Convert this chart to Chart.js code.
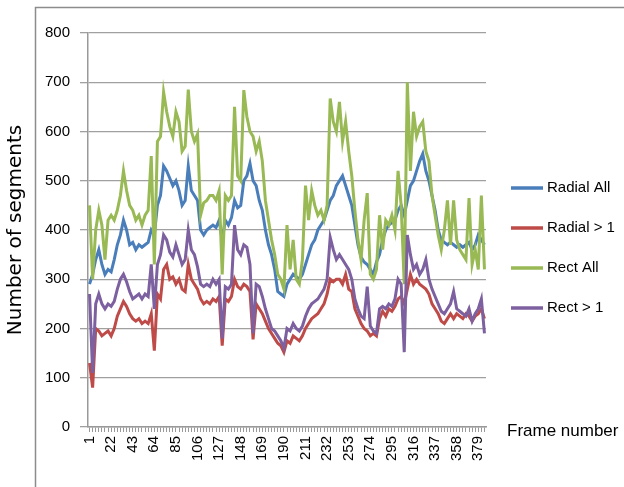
<!DOCTYPE html>
<html>
<head>
<meta charset="utf-8">
<script src="https://cdn.jsdelivr.net/npm/chart.js@4"></script>
<style>
  html, body { margin: 0; padding: 0; background: #fff; }
  canvas { display: block; }
</style>
</head>
<body>
<canvas id="grafikSegmen" width="624" height="487"></canvas>
<script>
// frames sampled every 3 frames
const frames = [1, 4, 7, 10, 13, 16, 19, 22, 25, 28, 31, 34, 37, 40, 43, 46, 49, 52, 55, 58, 61, 64, 67, 70, 73, 76, 79, 82, 85, 88, 91, 94, 97, 100, 103, 106, 109, 112, 115, 118, 121, 124, 127, 130, 133, 136, 139, 142, 145, 148, 151, 154, 157, 160, 163, 166, 169, 172, 175, 178, 181, 184, 187, 190, 193, 196, 199, 202, 205, 208, 211, 214, 217, 220, 223, 226, 229, 232, 235, 238, 241, 244, 247, 250, 253, 256, 259, 262, 265, 268, 271, 274, 277, 280, 283, 286, 289, 292, 295, 298, 301, 304, 307, 310, 313, 316, 319, 322, 325, 328, 331, 334, 337, 340, 343, 346, 349, 352, 355, 358, 361, 364, 367, 370, 373, 376, 379, 382, 385];
const frameTicks = [1, 22, 43, 64, 85, 106, 127, 148, 169, 190, 211, 232, 253, 274, 295, 316, 337, 358, 379];

const radialAll = [290, 310, 340, 360, 330, 310, 320, 315, 340, 370, 390, 420, 400, 370, 375, 360, 370, 365, 370, 375, 400, 390, 450, 470, 530, 520, 505, 490, 500, 480, 450, 460, 530, 480, 470, 460, 400, 390, 400, 405, 410, 405, 420, 380, 420, 410, 425, 460, 445, 450, 500, 510, 535, 500, 490, 460, 440, 400, 370, 350, 320, 275, 270, 265, 290, 300, 310, 305, 300, 310, 330, 350, 370, 380, 400, 410, 420, 440, 460, 470, 490, 500, 510, 490, 470, 450, 410, 370, 345, 335, 330, 320, 310, 335, 350, 380, 400, 410, 415, 420, 440, 450, 430, 460, 490, 500, 520, 540, 555, 520, 500, 470, 440, 400, 380, 375, 370, 375, 370, 365, 370, 365, 370, 375, 360, 370, 390, 380, 370];
const radialGt1 = [130, 80, 200, 195, 185, 190, 195, 185, 200, 225, 240, 255, 245, 230, 220, 215, 220, 210, 215, 210, 230, 155, 270, 260, 320, 330, 300, 305, 290, 300, 280, 275, 330, 300, 290, 280, 260, 250, 255, 250, 260, 255, 265, 165, 260, 255, 265, 300, 285, 280, 290, 285, 275, 178, 250, 240, 230, 215, 200, 190, 180, 170, 165, 152, 175, 170, 185, 180, 175, 185, 200, 210, 220, 225, 230, 240, 250, 270, 300, 295, 300, 300, 290, 310, 280, 275, 240, 225, 210, 200, 195, 185, 190, 185, 220, 235, 225, 240, 235, 245, 260, 265, 250, 280, 310, 290, 300, 290, 285, 280, 270, 250, 240, 230, 215, 210, 220, 230, 220, 230, 225, 220, 230, 225, 215, 225, 230, 240, 220];
const rectAll = [450, 300, 400, 440, 410, 340, 420, 430, 420, 440, 470, 520, 480, 450, 440, 420, 430, 410, 430, 440, 550, 330, 580, 590, 680, 640, 610, 590, 640, 620, 560, 570, 685, 600, 580, 595, 430, 455, 460, 470, 470, 460, 480, 310, 470, 460, 470, 650, 510, 500, 684, 630, 600, 590, 560, 580, 540, 460, 420, 380, 350, 310, 300, 280, 410, 320, 380, 300, 290, 340, 490, 420, 480, 450, 430, 440, 420, 450, 667, 620, 600, 660, 580, 620, 560, 510, 440, 380, 340, 420, 475, 310, 300, 320, 430, 360, 420, 410, 430, 400, 520, 450, 290, 700, 520, 640, 590, 610, 620, 560, 540, 470, 430, 390, 360, 400, 460, 370, 460, 380, 360, 350, 340, 465, 330, 360, 320, 470, 320];
const rectGt1 = [270, 110, 250, 270, 250, 240, 250, 245, 255, 280, 300, 310, 295, 275, 260, 265, 270, 260, 270, 265, 330, 240, 330, 350, 390, 380, 355, 345, 370, 350, 330, 340, 400, 360, 350, 325, 290, 285, 290, 285, 300, 290, 300, 180, 285, 280, 290, 410, 360, 350, 370, 365, 330, 190, 290, 285, 265, 240, 220, 200, 195, 185, 175, 160, 200, 195, 210, 200, 195, 205, 225, 240, 250, 255, 260, 270, 280, 300, 385, 360, 340, 350, 340, 330, 320, 300, 260, 240, 225, 220, 285, 205, 195, 190, 240, 245, 240, 250, 245, 260, 300, 290, 152, 390, 350, 320, 330, 310, 320, 340, 300, 280, 265, 250, 235, 230, 240, 250, 275, 240, 235, 230, 225, 240, 215, 230, 240, 260, 190];

const seriesNames = ["Radial All", "Radial > 1", "Rect All", "Rect > 1"];
const seriesColors = ["#4a7ebb", "#be4b48", "#98b954", "#7d60a0"];

// outer box, legend and the "Frame number" note
const hiasan = {
    id: "hiasan",
    afterDraw(chart) {
        const ctx = chart.ctx;
        ctx.save();
        ctx.strokeStyle = "#8c8c8c";
        ctx.lineWidth = 1.5;
        ctx.beginPath();
        ctx.moveTo(35.5, 487);
        ctx.lineTo(35.5, 7.5);
        ctx.lineTo(624, 7.5);
        ctx.stroke();

        ctx.font = "15px 'Liberation Sans', Arial, sans-serif";
        ctx.textBaseline = "middle";
        ctx.fillStyle = "#000";
        seriesNames.forEach((name, i) => {
            const y = 188 + i * 40;
            ctx.strokeStyle = seriesColors[i];
            ctx.lineWidth = 3.5;
            ctx.beginPath();
            ctx.moveTo(511, y);
            ctx.lineTo(543, y);
            ctx.stroke();
            ctx.fillText(name, 547, y);
        });

        ctx.font = "17px 'Liberation Sans', Arial, sans-serif";
        ctx.fillText("Frame number", 507, 431);
        ctx.restore();
    },
};

const sets = [radialAll, radialGt1, rectAll, rectGt1];
const urutan = [4, 3, 2, 1];

new Chart(document.getElementById("grafikSegmen"), {
    type: "line",
    data: {
        labels: frames,
        datasets: sets.map((d, i) => ({
            label: seriesNames[i],
            data: d,
            borderColor: seriesColors[i],
            backgroundColor: seriesColors[i],
            borderWidth: 3,
            pointRadius: 0,
            tension: 0,
            fill: false,
            order: urutan[i],
        })),
    },
    options: {
        responsive: false,
        animation: false,
        devicePixelRatio: 1,
        layout: { padding: { top: 33, right: 138, bottom: 0, left: 0 } },
        plugins: { legend: { display: false }, tooltip: { enabled: false } },
        scales: {
            x: {
                offset: true,
                grid: { drawOnChartArea: false, tickLength: 5, color: "#999" },
                border: { color: "#999", width: 1.5 },
                ticks: {
                    autoSkip: false,
                    minRotation: 90,
                    maxRotation: 90,
                    padding: 4,
                    color: "#000",
                    font: { size: 15, family: "'Liberation Sans', Arial, sans-serif" },
                    callback: (v, i) => (frameTicks.includes(frames[i]) ? String(frames[i]) : ""),
                },
                afterFit(s) { s.height = 60; },
            },
            y: {
                min: 0,
                max: 800,
                ticks: {
                    stepSize: 100,
                    padding: 10,
                    color: "#000",
                    font: { size: 15, family: "'Liberation Sans', Arial, sans-serif" },
                },
                grid: { color: "#a0a0a0", lineWidth: 1.3, tickLength: 8 },
                border: { color: "#999", width: 1.5 },
                title: {
                    display: true,
                    text: "Number of segments",
                    color: "#000",
                    font: { size: 20, family: "'DejaVu Sans', sans-serif" },
                    padding: { top: 4, bottom: 0 },
                },
                afterFit(s) { s.width = 88; },
            },
        },
    },
    plugins: [hiasan],
});
</script>
</body>
</html>
